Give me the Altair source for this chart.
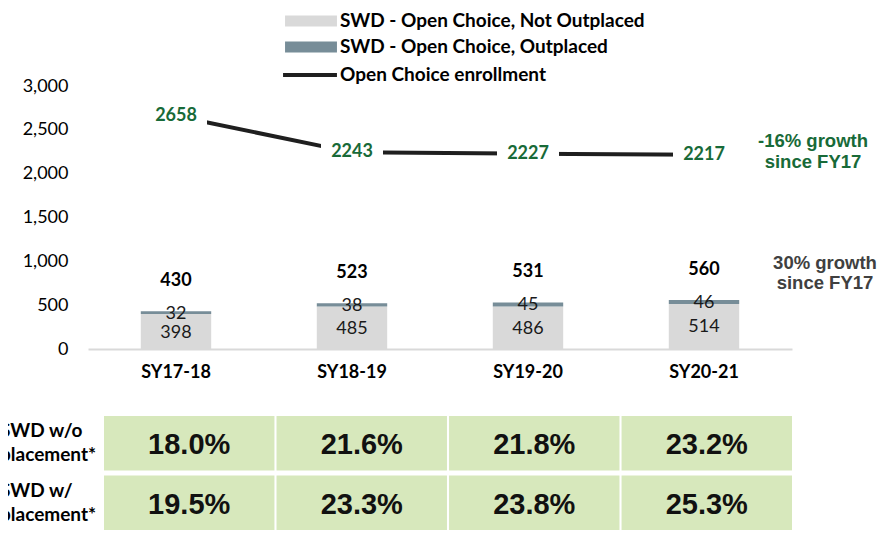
import altair as alt
import pandas as pd

# ---------------- data ----------------
years = ["SY17-18", "SY18-19", "SY19-20", "SY20-21"]
not_outplaced = [398, 485, 486, 514]
outplaced = [32, 38, 45, 46]
totals = [430, 523, 531, 560]
enrollment = [2658, 2243, 2227, 2217]
pct_without = ["18.0%", "21.6%", "21.8%", "23.2%"]
pct_with = ["19.5%", "23.3%", "23.8%", "25.3%"]
row_labels = ["SWD w/o\nplacement*", "SWD w/\nplacement*"]
series_names = ["SWD - Open Choice, Not Outplaced", "SWD - Open Choice, Outplaced"]
line_name = "Open Choice enrollment"
y_ticks = [0, 500, 1000, 1500, 2000, 2500, 3000]
note_enrollment = "-16% growth\nsince FY17"
note_swd = "30% growth\nsince FY17"

# ---------------- layout constants ----------------
W, H = 789, 524
BASE_Y = 341
TOP_Y = 78
FONT = "Lato"
GREEN = "#186A38"

bars_df = pd.DataFrame({
    "year": years * 2,
    "series": [series_names[0]] * 4 + [series_names[1]] * 4,
    "value": not_outplaced + outplaced,
    "ord": [0] * 4 + [1] * 4,
})
tot_df = pd.DataFrame({"year": years, "total": totals})
line_df = pd.DataFrame({"year": years, "enr": enrollment, "series": [line_name] * 4})
table_df = pd.DataFrame({
    "year": years * 2,
    "row": [row_labels[0]] * 4 + [row_labels[1]] * 4,
    "pct": pct_without + pct_with,
})
rows_df = pd.DataFrame({"row": row_labels})
note1_df = pd.DataFrame({"txt": [note_enrollment]})
note2_df = pd.DataFrame({"txt": [note_swd]})

x_scale = alt.Scale(domain=years, range=[0, 704], paddingInner=0.6, paddingOuter=0.3)
y_scale = alt.Scale(domain=[0, 3000], range=[BASE_Y, TOP_Y], nice=False, zero=False)

x_axis = alt.Axis(orient="bottom", offset=-(H - BASE_Y), labelFont=FONT,
                  labelFontSize=18, labelFontWeight="bold", labelColor="#000",
                  ticks=False, labelPadding=14, domainColor="#D9D9D9",
                  domainWidth=2, labelAngle=0, title=None)
y_axis = alt.Axis(values=y_ticks, labelExpr="format(datum.value, ',')",
                  domain=False, ticks=False,
                  grid=False, labelPadding=20, labelFont=FONT,
                  labelFontSize=18, labelColor="#000", title=None)


def X():
    return alt.X("year:N", scale=x_scale, axis=x_axis, title=None)


def Y(field):
    return alt.Y(field, scale=y_scale, axis=y_axis, title=None)


bars = alt.Chart(bars_df).mark_bar().encode(
    x=X(),
    y=alt.Y("value:Q", stack="zero", scale=y_scale, axis=y_axis, title=None),
    color=alt.Color("series:N",
                    scale=alt.Scale(domain=series_names, range=["#D9D9D9", "#778D98"]),
                    legend=alt.Legend(title=None, orient="none", legendX=212, legendY=2,
                                      symbolType="M-2.36,-0.5L2.36,-0.5L2.36,0.5L-2.36,0.5Z",
                                      symbolSize=484, symbolStrokeWidth=0,
                                      labelFont=FONT, labelFontSize=19,
                                      labelFontWeight="bold", labelColor="#000",
                                      labelOffset=18, rowPadding=5, padding=0,
                                      labelLimit=600)),
    order=alt.Order("ord:Q"),
)

seg_labels = alt.Chart(bars_df).transform_stack(
    stack="value", groupby=["year"], as_=["v0", "v1"],
    sort=[alt.SortField("ord", order="ascending")],
).transform_calculate(mid="(datum.v0 + datum.v1) / 2").mark_text(
    font=FONT, fontSize=18, color="#1a1a1a", dy=1
).encode(x=X(), y=Y("mid:Q"), text="value:Q")

tot_labels = alt.Chart(tot_df).mark_text(
    font=FONT, fontSize=18, fontWeight="bold", color="#000", dy=-30
).encode(x=X(), y=Y("total:Q"), text="total:Q")

line = alt.Chart(line_df).mark_line(strokeWidth=4).encode(
    x=X(),
    y=Y("enr:Q"),
    stroke=alt.Stroke("series:N", scale=alt.Scale(domain=[line_name], range=["#1F1F1F"]),
                      legend=alt.Legend(title=None, orient="none", legendX=209, legendY=54,
                                        symbolType="M-2.45,0L2.45,0",
                                        symbolSize=484,
                                        symbolStrokeWidth=4, labelFont=FONT,
                                        labelFontSize=19, labelFontWeight="bold",
                                        labelColor="#000", labelOffset=17, padding=0,
                                        labelLimit=600)),
)

boxes = alt.Chart(line_df).transform_calculate(
    lo="datum.enr - 125", hi="datum.enr + 125"
).mark_bar(color="white", width=62).encode(
    x=X(), y=Y("lo:Q"), y2="hi:Q"
)

line_labels = alt.Chart(line_df).mark_text(
    font=FONT, fontSize=18, fontWeight="bold", color=GREEN
).encode(x=X(), y=Y("enr:Q"), text="enr:Q")

note1 = alt.Chart(note1_df).mark_text(
    font="Liberation Sans", fontSize=18.5, fontWeight="bold", color=GREEN,
    lineBreak="\n", lineHeight=21, align="center"
).encode(x=alt.value(725), y=alt.value(133), text="txt:N")

note2 = alt.Chart(note2_df).mark_text(
    font="Liberation Sans", fontSize=18.5, fontWeight="bold", color="#404040",
    lineBreak="\n", lineHeight=20, align="center"
).encode(x=alt.value(737), y=alt.value(255), text="txt:N")

main = alt.layer(bars, seg_labels, tot_labels, line, boxes, line_labels, note1, note2)

tx_scale = alt.Scale(domain=years, range=[16, 704], paddingInner=0.012, paddingOuter=0)
ty_scale = alt.Scale(domain=row_labels, range=[408, 522], paddingInner=0.084, paddingOuter=0)

cells = alt.Chart(table_df).mark_rect(color="#D7E8BC").encode(
    x=alt.X("year:N", scale=tx_scale, axis=None),
    y=alt.Y("row:N", scale=ty_scale, axis=None),
)
cell_text = alt.Chart(table_df).mark_text(
    font="Liberation Sans", fontSize=29, fontWeight="bold", color="#111", dy=2
).encode(
    x=alt.X("year:N", scale=tx_scale, axis=None),
    y=alt.Y("row:N", scale=ty_scale, axis=None),
    text="pct:N",
)
row_text = alt.Chart(rows_df).mark_text(
    font=FONT, fontSize=19, fontWeight="bold", color="#000", align="left",
    lineBreak="\n", lineHeight=24, dy=-12
).encode(
    x=alt.value(-88),
    y=alt.Y("row:N", scale=ty_scale, axis=None),
    text="row:N",
)
table = alt.layer(cells, cell_text, row_text)

chart = alt.layer(main, table).resolve_scale(
    x="independent", y="independent"
).properties(
    width=W, height=H,
    autosize=alt.AutoSizeParams(type="none"),
    padding={"left": 80, "top": 0, "right": 0, "bottom": 0},
).configure_view(stroke=None)

chart.save("out.html", embed_options={"renderer": "svg", "actions": False})
